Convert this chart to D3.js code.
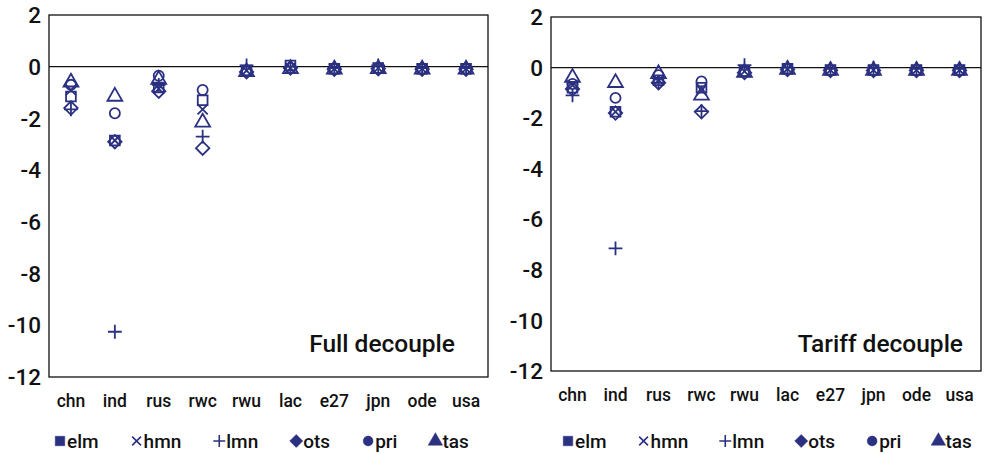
<!DOCTYPE html>
<html lang="en"><head><meta charset="utf-8">
<title>Decouple scenarios</title>
<script src="https://cdn.jsdelivr.net/npm/d3@7"></script>
<style>
  body { margin: 0; background: #fff; }
  text { font-family: Roboto, "DejaVu Sans", sans-serif; font-weight: 500; fill: #111; }
</style>
</head>
<body>
<script>
    // categories and series
    var regions = ["chn", "ind", "rus", "rwc", "rwu", "lac", "e27", "jpn", "ode", "usa"];
    var series = ["elm", "hmn", "lmn", "ots", "pri", "tas"];
    var yTicks = [2, 0, -2, -4, -6, -8, -10, -12];

    // Full decouple, one array per series (same order as regions)
    var fullElm = [-1.15, -2.85, -0.8, -1.3, -0.15, 0.05, -0.08, -0.05, -0.08, -0.08];
    var fullHmn = [-0.9, -2.85, -0.85, -1.65, -0.15, -0.05, -0.08, -0.05, -0.08, -0.08];
    var fullLmn = [-1.65, -10.25, -0.7, -2.7, 0.05, 0.0, -0.05, 0.05, -0.05, -0.05];
    var fullOts = [-1.6, -2.9, -0.95, -3.15, -0.2, -0.05, -0.1, -0.08, -0.1, -0.1];
    var fullPri = [-0.7, -1.8, -0.35, -0.9, -0.15, -0.05, -0.08, -0.05, -0.08, -0.08];
    var fullTas = [-0.6, -1.15, -0.5, -2.15, -0.2, -0.08, -0.1, -0.08, -0.1, -0.1];

    // Tariff decouple
    var tarElm = [-0.8, -1.75, -0.5, -0.8, -0.15, -0.05, -0.1, -0.1, -0.1, -0.1];
    var tarHmn = [-0.7, -1.75, -0.5, -0.9, -0.15, -0.05, -0.1, -0.1, -0.1, -0.1];
    var tarLmn = [-1.1, -7.15, -0.6, -1.72, 0.1, 0.0, -0.05, 0.0, -0.05, -0.05];
    var tarOts = [-0.85, -1.8, -0.6, -1.75, -0.2, -0.08, -0.12, -0.12, -0.12, -0.12];
    var tarPri = [-0.65, -1.2, -0.3, -0.55, -0.15, -0.05, -0.1, -0.1, -0.1, -0.1];
    var tarTas = [-0.4, -0.6, -0.25, -1.1, -0.2, -0.08, -0.12, -0.12, -0.12, -0.12];

    var navy = "#2b3180";

    // custom symbols: +, x and a square-shaped diamond
    var plusType = { draw: function (ctx, size) {
        var r = Math.sqrt(size) / 2;
        ctx.moveTo(-r, 0); ctx.lineTo(r, 0);
        ctx.moveTo(0, -r); ctx.lineTo(0, r);
    }};
    var timesType = { draw: function (ctx, size) {
        var r = Math.sqrt(size) / 2 * 0.72;
        ctx.moveTo(-r, -r); ctx.lineTo(r, r);
        ctx.moveTo(-r, r); ctx.lineTo(r, -r);
    }};
    var diamondType = { draw: function (ctx, size) {
        var r = Math.sqrt(size / 2);
        ctx.moveTo(0, -r); ctx.lineTo(r, 0); ctx.lineTo(0, r); ctx.lineTo(-r, 0);
        ctx.closePath();
    }};

    var markers = {
        elm: { type: d3.symbolSquare, size: 95, line: false },
        hmn: { type: timesType, size: 200, line: true },
        lmn: { type: plusType, size: 190, line: true },
        ots: { type: diamondType, size: 90, line: false },
        pri: { type: d3.symbolCircle, size: 80, line: false },
        tas: { type: d3.symbolTriangle, size: 95, line: false }
    };

    var svg = d3.select("body").append("svg")
        .attr("width", 996)
        .attr("height", 453);

    function drawPanel(p) {
        var x = d3.scaleBand().domain(regions).range([p.left, p.right]);
        var y = d3.scaleLinear().domain([-12, 2]).range([p.bottom, p.top]);

        var g = svg.append("g");

        // y tick labels
        g.selectAll(".ytick").data(yTicks).enter().append("text")
            .attr("class", "ytick")
            .attr("x", p.left - 8)
            .attr("y", function (d) { return y(d); })
            .attr("dy", "0.36em")
            .attr("text-anchor", "end")
            .attr("font-size", 22.5)
            .text(function (d) { return d; });

        // zero line
        g.append("line")
            .attr("x1", p.left).attr("x2", p.right)
            .attr("y1", y(0)).attr("y2", y(0))
            .attr("stroke", "#111").attr("stroke-width", 1.3);

        // category labels
        g.selectAll(".xtick").data(regions).enter().append("text")
            .attr("class", "xtick")
            .attr("x", function (d) { return x(d) + x.bandwidth() / 2; })
            .attr("y", p.catY)
            .attr("text-anchor", "middle")
            .attr("font-size", 17.5)
            .text(function (d) { return d; });

        // points
        series.forEach(function (s, si) {
            var m = markers[s];
            var sym = d3.symbol().type(m.type).size(m.size);
            g.selectAll(".pt-" + s).data(p.values[si]).enter().append("path")
                .attr("class", "pt-" + s)
                .attr("d", sym)
                .attr("transform", function (d, i) {
                    return "translate(" + (x(regions[i]) + x.bandwidth() / 2) + "," + y(d) + ")";
                })
                .attr("fill", "none")
                .attr("stroke", navy)
                .attr("stroke-width", 1.8);
        });

        // frame
        g.append("rect")
            .attr("x", p.left).attr("y", p.top)
            .attr("width", p.right - p.left).attr("height", p.bottom - p.top)
            .attr("fill", "none")
            .attr("stroke", "#111").attr("stroke-width", 1.3);

        // scenario label
        g.append("text")
            .attr("x", p.labelX)
            .attr("y", 352)
            .attr("text-anchor", "end")
            .attr("font-size", 24.5)
            .text(p.title);

        // legend
        var lx = p.legendX;
        series.forEach(function (s) {
            var m = markers[s];
            var sym = d3.symbol().type(m.type).size(m.line ? m.size * 0.75 : m.size * 0.95);
            g.append("path")
                .attr("d", sym)
                .attr("transform", "translate(" + (lx + 6) + ",441)")
                .attr("fill", m.line ? "none" : navy)
                .attr("stroke", navy)
                .attr("stroke-width", m.line ? 1.6 : 0.5);
            var t = g.append("text")
                .attr("x", lx + 13)
                .attr("y", 441)
                .attr("dy", "0.35em")
                .attr("font-size", 19)
                .text(s);
            lx += 13 + t.node().getComputedTextLength() + p.legendGap;
        });
    }

    drawPanel({
        left: 49, right: 488, top: 15, bottom: 377, catY: 407,
        labelX: 455, title: "Full decouple", legendX: 54, legendGap: 32,
        values: [fullElm, fullHmn, fullLmn, fullOts, fullPri, fullTas]
    });
    drawPanel({
        left: 551, right: 981, top: 17, bottom: 371, catY: 401,
        labelX: 963, title: "Tariff decouple", legendX: 562, legendGap: 31,
        values: [tarElm, tarHmn, tarLmn, tarOts, tarPri, tarTas]
    });
</script>
</body></html>
